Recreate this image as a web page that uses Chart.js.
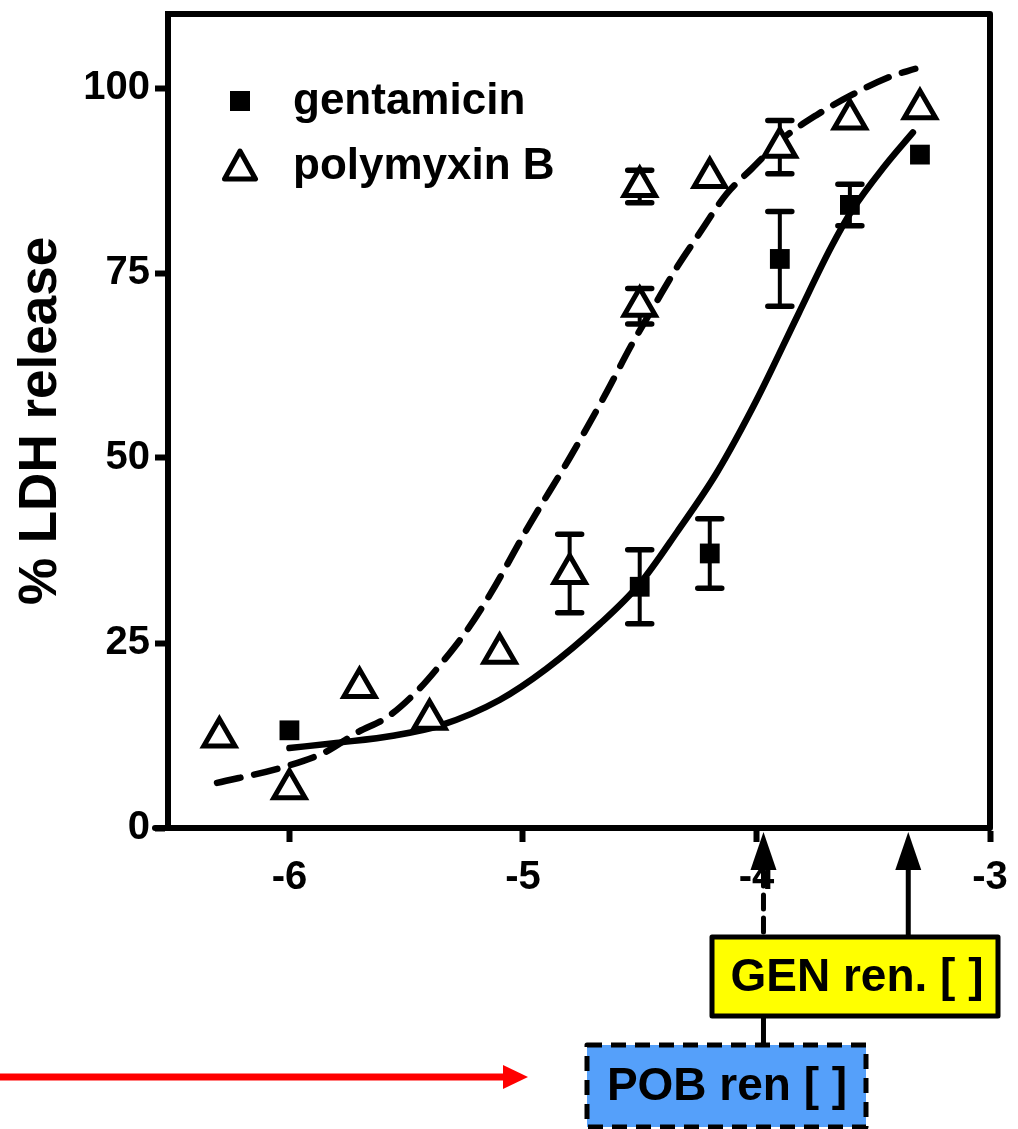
<!DOCTYPE html>
<html>
<head>
<meta charset="utf-8">
<script src="https://cdn.jsdelivr.net/npm/chart.js@4"></script>
<style>
  html, body { margin: 0; padding: 0; background: #fff; }
</style>
</head>
<body>
<canvas id="ldhChart" width="1018" height="1129"></canvas>
<script>
// measured points (log concentration vs % LDH release)
const genX = [-6.0, -4.5, -4.2, -3.9, -3.6, -3.3];
const genY = [13.2, 32.6, 37.1, 76.9, 84.2, 91.0];
const genErr = [0, 5.0, 4.7, 6.4, 2.8, 0];

const polyX = [-6.3, -6.0, -5.7, -5.4, -5.1, -4.8, -4.5, -4.5, -4.2, -3.9, -3.6, -3.3];
const polyY = [12.3, 5.3, 19.0, 14.7, 23.6, 34.4, 70.5, 86.7, 87.9, 92.0, 95.8, 97.2];
const polyErr = [0, 0, 0, 0, 0, 5.3, 2.4, 2.2, 0, 3.6, 0, 0];

// fitted curves
const genFitX = [-6.0, -5.8, -5.55, -5.35, -5.1, -4.9, -4.67, -4.5, -4.34, -4.17, -4.0, -3.82, -3.68, -3.59, -3.45, -3.33];
const genFitY = [10.8, 11.5, 12.5, 13.9, 17.3, 21.5, 27.6, 33.0, 40.0, 48.0, 57.8, 69.5, 78.5, 83.5, 89.5, 94.0];

const polyFitX = [-6.31, -6.03, -5.85, -5.71, -5.58, -5.45, -5.34, -5.24, -5.14, -4.97, -4.80, -4.64, -4.54, -4.43, -4.34, -4.26, -4.13, -4.02, -3.89, -3.74, -3.59, -3.43, -3.32];
const polyFitY = [6.1, 8.2, 10.2, 12.9, 15.0, 18.6, 22.6, 26.7, 31.6, 41.1, 50.0, 59.0, 65.0, 71.0, 75.8, 79.6, 85.6, 89.1, 93.1, 96.4, 99.1, 101.5, 102.6];

const xTicks = [-6, -5, -4, -3];
const yTicks = [0, 25, 50, 75, 100];

// arrow positions on the x axis (POB, GEN)
const markerX = [-3.97, -3.35];

const FONT = "'Liberation Sans', Arial, Helvetica, sans-serif";

function toPoints(xs, ys) {
  return xs.map((x, i) => ({ x: x, y: ys[i] }));
}

// error bars behind the markers
const errorBars = {
  id: 'errorBars',
  beforeDatasetsDraw(chart) {
    const ctx = chart.ctx;
    const xs = chart.scales.x, ys = chart.scales.y;
    const sets = [[genX, genY, genErr], [polyX, polyY, polyErr]];
    ctx.save();
    ctx.strokeStyle = '#000';
    ctx.lineCap = 'round';
    sets.forEach(([X, Y, E]) => {
      X.forEach((x, i) => {
        if (!E[i]) return;
        const px = xs.getPixelForValue(x);
        const top = ys.getPixelForValue(Y[i] + E[i]);
        const bot = ys.getPixelForValue(Y[i] - E[i]);
        ctx.lineWidth = 4;
        ctx.beginPath();
        ctx.moveTo(px, top);
        ctx.lineTo(px, bot);
        ctx.stroke();
        ctx.lineWidth = 5.5;
        ctx.beginPath();
        ctx.moveTo(px - 12, top); ctx.lineTo(px + 12, top);
        ctx.moveTo(px - 12, bot); ctx.lineTo(px + 12, bot);
        ctx.stroke();
      });
    });
    ctx.restore();
  }
};

function drawTriangle(ctx, cx, cy, w, h) {
  ctx.beginPath();
  ctx.moveTo(cx, cy - h / 2);
  ctx.lineTo(cx + w / 2, cy + h / 2);
  ctx.lineTo(cx - w / 2, cy + h / 2);
  ctx.closePath();
}

function upArrow(ctx, x, tipY) {
  ctx.beginPath();
  ctx.moveTo(x, tipY);
  ctx.lineTo(x + 13, tipY + 38);
  ctx.lineTo(x - 13, tipY + 38);
  ctx.closePath();
  ctx.fill();
}

// frame, legend and the annotations under the axis
const extras = {
  id: 'extras',
  afterDraw(chart) {
    const ctx = chart.ctx;
    const a = chart.chartArea;
    const xs = chart.scales.x;
    ctx.save();
    ctx.strokeStyle = '#000';
    ctx.fillStyle = '#000';
    ctx.lineWidth = 6;
    ctx.lineCap = 'round';
    ctx.lineJoin = 'round';

    // top and right border
    ctx.beginPath();
    ctx.moveTo(a.left, a.top);
    ctx.lineTo(a.right, a.top);
    ctx.lineTo(a.right, a.bottom);
    ctx.stroke();
    // x axis runs a little past the y axis
    ctx.beginPath();
    ctx.moveTo(a.left - 13, a.bottom);
    ctx.lineTo(a.left, a.bottom);
    ctx.stroke();

    // legend
    const lx = a.left + 72;
    ctx.fillRect(lx - 10, a.top + 77, 20, 20);
    ctx.lineWidth = 5;
    ctx.fillStyle = '#fff';
    drawTriangle(ctx, lx, a.top + 151, 31, 28);
    ctx.fill();
    ctx.stroke();
    ctx.fillStyle = '#000';
    ctx.font = 'bold 44px ' + FONT;
    ctx.textBaseline = 'alphabetic';
    ctx.textAlign = 'left';
    ctx.fillText('gentamicin', lx + 53, a.top + 100);
    ctx.fillText('polymyxin B', lx + 53, a.top + 165);

    // arrows up to the axis
    const pobX = xs.getPixelForValue(markerX[0]);
    const genXp = xs.getPixelForValue(markerX[1]);
    const tipY = a.bottom + 4;
    upArrow(ctx, pobX, tipY);
    upArrow(ctx, genXp, tipY);

    ctx.lineWidth = 5;
    ctx.lineCap = 'round';
    ctx.beginPath();
    ctx.moveTo(genXp, tipY + 36);
    ctx.lineTo(genXp, 935);
    ctx.stroke();

    ctx.setLineDash([14, 9]);
    ctx.beginPath();
    ctx.moveTo(pobX, tipY + 40);
    ctx.lineTo(pobX, 935);
    ctx.stroke();
    ctx.setLineDash([]);
    ctx.beginPath();
    ctx.moveTo(pobX, 1018);
    ctx.lineTo(pobX, 1043);
    ctx.stroke();

    // GEN box
    ctx.fillStyle = '#ffff00';
    ctx.fillRect(712, 937, 286, 79);
    ctx.lineJoin = 'round';
    ctx.strokeRect(712, 937, 286, 79);
    ctx.fillStyle = '#000';
    ctx.font = 'bold 46px ' + FONT;
    ctx.textAlign = 'center';
    ctx.textBaseline = 'middle';
    ctx.fillText('GEN ren. [ ]', 857, 978);

    // POB box
    ctx.fillStyle = '#55a0fa';
    ctx.fillRect(587, 1045, 279, 82);
    ctx.setLineDash([15, 9]);
    ctx.lineCap = 'butt';
    ctx.strokeRect(587, 1045, 279, 82);
    ctx.setLineDash([]);
    ctx.fillStyle = '#000';
    ctx.fillText('POB ren [ ]', 727, 1087);

    // red pointer
    ctx.strokeStyle = '#ff0000';
    ctx.fillStyle = '#ff0000';
    ctx.lineWidth = 7;
    ctx.beginPath();
    ctx.moveTo(0, 1077);
    ctx.lineTo(506, 1077);
    ctx.stroke();
    ctx.beginPath();
    ctx.moveTo(528, 1077);
    ctx.lineTo(503, 1065);
    ctx.lineTo(503, 1089);
    ctx.closePath();
    ctx.fill();

    ctx.restore();
  }
};

const tickFont = { family: FONT, size: 40, weight: 'bold', lineHeight: 0.6 };

new Chart(document.getElementById('ldhChart'), {
  type: 'scatter',
  data: {
    datasets: [
      {
        label: 'gentamicin',
        data: toPoints(genX, genY),
        pointStyle: 'rect',
        pointRadius: 14,
        backgroundColor: '#000',
        borderColor: '#000',
        borderWidth: 0
      },
      {
        label: 'polymyxin B',
        data: toPoints(polyX, polyY),
        pointStyle: 'triangle',
        pointRadius: 18,
        backgroundColor: '#fff',
        borderColor: '#000',
        borderWidth: 5
      },
      {
        label: 'gentamicin fit',
        data: toPoints(genFitX, genFitY),
        showLine: true,
        pointRadius: 0,
        borderColor: '#000',
        borderWidth: 6.5,
        cubicInterpolationMode: 'monotone',
        borderCapStyle: 'round'
      },
      {
        label: 'polymyxin B fit',
        data: toPoints(polyFitX, polyFitY),
        showLine: true,
        pointRadius: 0,
        borderColor: '#000',
        borderWidth: 6.5,
        borderDash: [24, 14],
        cubicInterpolationMode: 'monotone',
        borderCapStyle: 'round'
      }
    ]
  },
  options: {
    responsive: false,
    animation: false,
    events: [],
    layout: { autoPadding: false, padding: { left: 0, top: 14, right: 28, bottom: 0 } },
    plugins: {
      legend: { display: false },
      tooltip: { enabled: false }
    },
    scales: {
      x: {
        type: 'linear',
        min: -6.52,
        max: -3,
        afterBuildTicks: s => { s.ticks = xTicks.map(v => ({ value: v })); },
        afterFit: s => { s.height = 301; s.paddingLeft = 0; s.paddingRight = 0; },
        grid: { drawOnChartArea: false, drawTicks: true, tickLength: 14, tickWidth: 6, tickColor: '#000' },
        border: { display: true, color: '#000', width: 6 },
        ticks: { color: '#000', font: tickFont, padding: 24, maxRotation: 0, autoSkip: false, callback: v => String(v) }
      },
      y: {
        min: 0,
        max: 110,
        afterBuildTicks: s => { s.ticks = yTicks.map(v => ({ value: v })); },
        afterFit: s => { s.width = 168; s.paddingTop = 0; s.paddingBottom = 0; },
        grid: { drawOnChartArea: false, drawTicks: true, tickLength: 13, tickWidth: 6, tickColor: '#000' },
        border: { display: true, color: '#000', width: 6 },
        ticks: { color: '#000', font: tickFont, padding: 5, autoSkip: false, callback: v => String(v) },
        title: {
          display: true,
          text: '% LDH release',
          color: '#000',
          font: { family: FONT, size: 53, weight: 'bold' },
          padding: { top: 10, bottom: 0 }
        }
      }
    }
  },
  plugins: [errorBars, extras]
});
</script>
</body>
</html>
